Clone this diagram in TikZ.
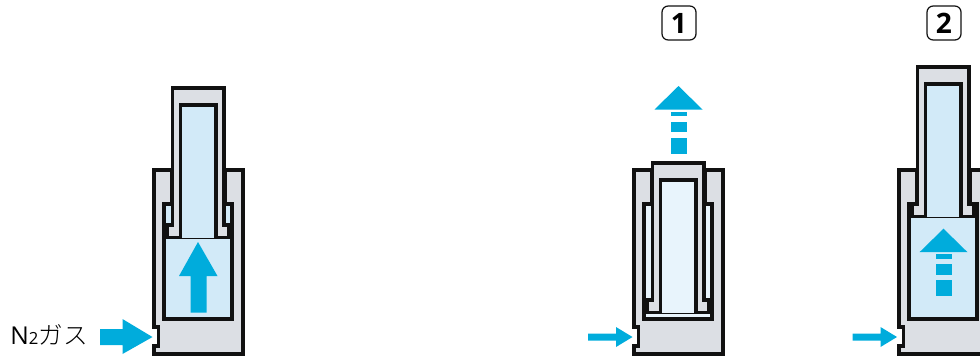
\documentclass[tikz,border=0pt]{standalone}
\usepackage{fontspec}
\setmainfont{Open Sans}
\newfontfamily\jpfont{Noto Sans CJK JP Light}[Scale=1]
\usepackage{xcolor}
\definecolor{gasblue}{HTML}{00ACDC}
\definecolor{gasfill}{HTML}{D2EAF8}
\definecolor{palefill}{HTML}{E8F4FC}
\definecolor{steelgray}{HTML}{DCDFE4}
\definecolor{linedark}{HTML}{111111}
\usetikzlibrary{positioning}
\begin{document}
\begin{tikzpicture}[
    x=0.02cm, y=-0.02cm,
    steel/.style={fill=steelgray, draw=linedark, line width=1.85pt, line join=miter},
    gas/.style={fill=#1, draw=linedark, line width=1.85pt},
    flow/.style={fill=gasblue, draw=none},
    tag/.style={draw=linedark, rounded corners=3.5pt, line width=0.7pt, minimum width=0.68cm, minimum height=0.68cm, inner sep=0pt, font=\bfseries\fontsize{16}{16}\selectfont}
  ]
    \useasboundingbox (0,0) rectangle (980,356);
    \clip (0,0) rectangle (980,356);
    % body, cavity and rod of the three cylinders
    \foreach \dx/\dy/\tint in {0/0/gasfill, 480/75/palefill, 745/-21/gasfill} {
      \begin{scope}[xshift=\dx*0.02cm]
        \draw[steel] (154,170) -- (171.5,170) -- (171.5,204) -- (164,204) -- (164,319) -- (232,319)
          -- (232,204) -- (225.5,204) -- (225.5,170) -- (243,170) -- (243,354) -- (154,354)
          -- (154,346) -- (158.5,346) -- (158.5,327) -- (154,327) -- cycle;
        \fill[\tint] (164,204) rectangle (232,319);
        \draw[gas=\tint] (171.5,204) -- (164,204) -- (164,319) -- (232,319) -- (232,204) -- (225.5,204);
        \begin{scope}[yshift=\dy*-0.02cm]
          \draw[steel] (172.5,88) -- (224,88) -- (224,225) -- (229,225) -- (229,237.5)
            -- (167.5,237.5) -- (167.5,225) -- (172.5,225) -- cycle;
          \draw[gas=\tint] (180.5,237.5) -- (180.5,105) -- (216,105) -- (216,237.5);
        \end{scope}
      \end{scope}
    }
    % gas arrows
    \fill[flow] (198,242) -- (217.5,276) -- (206.5,276) -- (206.5,312.5) -- (190.5,312.5) -- (190.5,276) -- (179,276) -- cycle;
    \fill[flow] (100,329) -- (122.5,329) -- (122.5,319) -- (152.5,337) -- (122.5,354) -- (122.5,345) -- (100,345) -- cycle;
    \fill[flow] (588,333.5) -- (616,333.5) -- (616,327) -- (632.5,337) -- (616,347) -- (616,340.5) -- (588,340.5) -- cycle;
    \fill[flow] (852.5,333.5) -- (880.5,333.5) -- (880.5,327) -- (897,337) -- (880.5,347) -- (880.5,340.5) -- (852.5,340.5) -- cycle;
    % dashed arrows
    \foreach \ax/\ay in {678.5/86, 943.5/228.7} {
      \begin{scope}[shift={(\ax*0.02cm,\ay*-0.02cm)}]
        \fill[flow] (0,0) -- (24,23.5) -- (-24,23.5) -- cycle;
        \fill[flow] (-8,25.5) rectangle (8,30);
        \fill[flow] (-8,35.5) rectangle (8,46);
        \fill[flow] (-8,51.5) rectangle (8,67.5);
      \end{scope}
    }
    \node[tag] (one) at (679,23) {1};
    \node[tag] (two) at (944,23) {2};
    \node[anchor=west, inner sep=0pt, font=\fontsize{14}{14}\selectfont] (gaslabel) at (10,335)
      {N\fontsize{9.5}{9.5}\selectfont 2\fontsize{14}{14}\selectfont\jpfont ガス};
\end{tikzpicture}
\end{document}
